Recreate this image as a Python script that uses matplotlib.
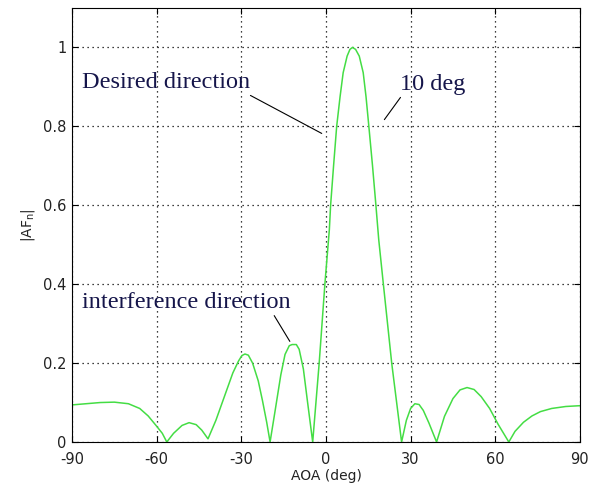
import numpy as np
import matplotlib.pyplot as plt

# AOA (deg) and |AF_n|
aoa = [-90, -85, -80, -75, -70, -66, -63, -60, -58, -56.4,
       -54, -51, -48.5, -46, -44, -41.8, -39, -36, -33, -31,
       -29.8, -28.7, -27.5, -26, -24, -22.5, -21, -19.8, -18, -16,
       -14.5, -13, -12, -10.5, -9.5, -8, -6.5, -4.7, -2.4, -0.35,
       1.2, 1.65, 2.7, 3.8, 5, 6.1, 7.5, 8.5, 9.4, 10.5,
       11.8, 13.2, 14.2, 15.2, 16.5, 17.7, 18.7, 20.3, 23.3, 26.8,
       28.5, 30, 31.5, 33, 34.5, 36.5, 39.2, 42, 45, 47.5,
       50, 52.5, 55, 58, 61, 64.8, 67, 70, 73, 76,
       80, 85, 90]
af = [0.094, 0.097, 0.100, 0.101, 0.097, 0.085, 0.066, 0.040, 0.022, 0.0,
      0.022, 0.042, 0.049, 0.044, 0.030, 0.008, 0.055, 0.115, 0.175, 0.205,
      0.219, 0.223, 0.220, 0.200, 0.155, 0.105, 0.050, 0.0, 0.080, 0.170,
      0.222, 0.244, 0.247, 0.247, 0.235, 0.185, 0.100, 0.0, 0.200, 0.403,
      0.538, 0.600, 0.700, 0.800, 0.875, 0.936, 0.978, 0.995, 1.0, 0.995,
      0.978, 0.936, 0.875, 0.800, 0.700, 0.600, 0.513, 0.403, 0.200, 0.0,
      0.055, 0.085, 0.097, 0.095, 0.080, 0.048, 0.0, 0.065, 0.110, 0.132,
      0.138, 0.133, 0.115, 0.085, 0.045, 0.0, 0.027, 0.050, 0.066, 0.077,
      0.085, 0.090, 0.092]

xticks = [-90, -60, -30, 0, 30, 60, 90]
yticks = [0, 0.2, 0.4, 0.6, 0.8, 1]

fig = plt.figure(figsize=(5.92, 4.91), dpi=100)
ax = fig.add_axes([0.1216, 0.0998, 0.858, 0.884])
ax.plot(aoa, af, color='#44dd44', linewidth=1.1)

ax.set_xlim(-90, 90)
ax.set_ylim(0, 1.1)
ax.set_xticks(xticks)
ax.set_xticklabels([str(t) for t in xticks])
ax.set_yticks(yticks)
ax.set_yticklabels(['0', '0.2', '0.4', '0.6', '0.8', '1'])
ax.tick_params(direction='in', top=True, right=True, labelsize=10.5,
               labelcolor='#222222', length=4)
ax.tick_params(axis='x', pad=7)
ax.tick_params(axis='y', pad=4)
ax.grid(True, linestyle=(0, (1, 3)), color='black', linewidth=0.9)
for s in ax.spines.values():
    s.set_linewidth(0.8)

ax.set_xlabel('AOA (deg)', fontsize=10, color='#222222', labelpad=2)
ax.set_ylabel(r'$\mathregular{|AF_n|}$', fontsize=10, color='#222222', labelpad=4)

serif = 'Liberation Serif'
tc = '#15154a'
ax.annotate('Desired direction', xy=(-1.5, 0.782), xytext=(-86.4, 0.898),
            fontsize=17.5, family=serif, color=tc,
            arrowprops=dict(arrowstyle='-', color='black', lw=0.8,
                            shrinkA=0, shrinkB=0, relpos=(0.97, 0.0)))
ax.annotate('10 deg', xy=(20.7, 0.817), xytext=(26.2, 0.893),
            fontsize=17.5, family=serif, color=tc,
            arrowprops=dict(arrowstyle='-', color='black', lw=0.8,
                            shrinkA=0, shrinkB=0, relpos=(0.04, 0.0)))
ax.annotate('interference direction', xy=(-12.8, 0.255), xytext=(-86.5, 0.34),
            fontsize=17.5, family=serif, color=tc,
            arrowprops=dict(arrowstyle='-', color='black', lw=0.8,
                            shrinkA=0, shrinkB=0, relpos=(0.92, -0.1)))

fig.savefig('out.png', dpi=100)
